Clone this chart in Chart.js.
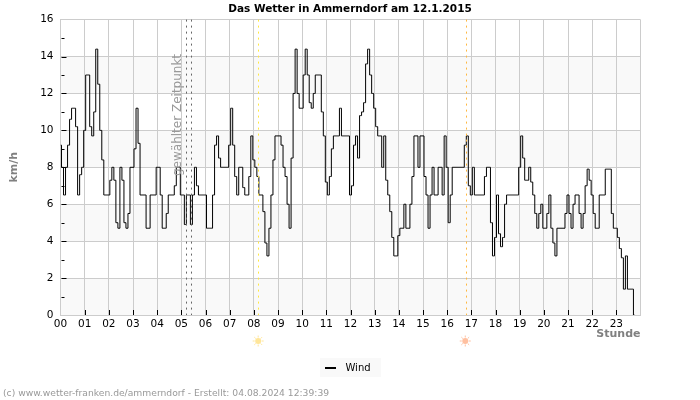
<!DOCTYPE html>
<html>
<head>
<meta charset="utf-8">
<title>Das Wetter in Ammerndorf</title>
<script src="https://cdn.jsdelivr.net/npm/chart.js@4"></script>
<style>
  html, body { margin: 0; padding: 0; background: #fff; }
  #box { position: absolute; left: 0; top: 0; width: 700px; height: 400px; }
</style>
</head>
<body>
<div id="box"><canvas id="wetter" width="700" height="400"></canvas></div>
<script>
const chartTitle = "Das Wetter in Ammerndorf am 12.1.2015";
const footerText = "(c) www.wetter-franken.de/ammerndorf - Erstellt: 04.08.2024 12:39:39";
const selectedLabel = "gewählter Zeitpunkt";
const seriesName = "Wind";
const hourLabels = ["00","01","02","03","04","05","06","07","08","09","10","11","12","13","14","15","16","17","18","19","20","21","22","23"];
const yTickLabels = [0, 2, 4, 6, 8, 10, 12, 14, 16];
const yBands = [[0, 2], [4, 6], [8, 10], [12, 14]];
const selectedHours = [5.18, 5.41];
const sunrise = 8.18;
const sunset = 16.79;

// one row per hour, 5 minute values in km/h
const windValues = [
  9.2, 8.0, 6.5, 8.0, 9.2, 10.6, 11.2, 11.2, 10.2, 6.5, 7.6, 8.0,
  10.0, 13.0, 13.0, 10.2, 9.7, 11.0, 14.4, 12.5, 10.0, 8.4, 6.5, 6.5,
  6.5, 7.3, 8.0, 7.3, 5.0, 4.7, 8.0, 7.3, 5.0, 4.7, 5.5, 8.0,
  8.0, 9.0, 11.2, 9.3, 6.5, 6.5, 6.5, 4.7, 4.7, 6.5, 6.5, 6.5,
  8.0, 8.0, 6.5, 4.7, 4.7, 5.5, 6.5, 6.5, 6.5, 7.0, 8.0, 8.0,
  6.5, 6.5, 4.9, 6.5, 6.5, 4.9, 6.5, 8.0, 7.0, 6.5, 6.5, 6.5,
  6.5, 4.7, 4.7, 4.7, 6.5, 9.2, 9.7, 8.5, 8.0, 8.0, 8.0, 8.0,
  9.2, 11.2, 9.2, 7.5, 6.5, 8.0, 8.0, 6.9, 6.5, 6.5, 7.5, 9.7,
  8.4, 8.0, 7.5, 6.5, 6.5, 5.6, 3.9, 3.2, 4.7, 6.5, 8.4, 9.7,
  9.7, 9.7, 9.2, 8.0, 7.5, 6.0, 4.7, 8.5, 12.0, 14.4, 12.0, 11.2,
  11.2, 13.0, 14.4, 13.0, 11.5, 11.2, 12.0, 13.0, 13.0, 13.0, 11.0, 9.7,
  7.2, 6.5, 7.5, 9.0, 9.7, 9.7, 9.7, 11.2, 9.7, 9.7, 9.7, 9.7,
  6.5, 7.0, 9.2, 9.7, 8.5, 10.8, 11.0, 11.5, 13.6, 14.4, 13.0, 12.0,
  11.2, 10.2, 9.7, 9.7, 8.0, 9.7, 7.3, 6.5, 5.6, 4.2, 3.2, 3.2,
  4.3, 4.7, 4.7, 6.0, 4.7, 4.7, 6.0, 7.5, 9.7, 9.7, 8.0, 9.7,
  9.7, 7.5, 6.5, 4.7, 6.5, 8.0, 6.5, 6.5, 8.0, 8.0, 6.5, 9.7,
  8.0, 5.0, 6.5, 8.0, 8.0, 8.0, 8.0, 8.0, 8.0, 9.2, 9.7, 7.0,
  6.5, 8.0, 6.5, 6.5, 6.5, 6.5, 6.5, 7.5, 8.0, 8.0, 5.0, 3.2,
  4.2, 6.5, 4.4, 3.7, 4.2, 6.0, 6.5, 6.5, 6.5, 6.5, 6.5, 6.5,
  8.0, 9.7, 8.5, 7.3, 7.3, 8.0, 7.2, 6.5, 5.5, 4.7, 5.5, 6.0,
  4.7, 4.7, 5.5, 6.5, 4.7, 3.9, 3.2, 4.7, 4.7, 4.7, 4.7, 5.5,
  6.5, 5.5, 4.7, 6.0, 6.5, 6.5, 5.5, 4.7, 5.5, 7.0, 7.9, 7.3,
  6.5, 5.5, 4.7, 4.7, 6.5, 6.5, 6.5, 7.9, 7.9, 7.9, 5.5, 4.7,
  4.7, 4.2, 3.6, 3.1, 1.4, 3.2, 1.4, 1.4, 1.4, 0
];

const fontName = "'DejaVu Sans', sans-serif";

function drawSun(ctx, x, y, color) {
  ctx.save();
  ctx.strokeStyle = color;
  ctx.fillStyle = color;
  ctx.lineWidth = 1;
  ctx.beginPath();
  ctx.arc(x, y, 3, 0, Math.PI * 2);
  ctx.fill();
  for (let i = 0; i < 8; i++) {
    const a = i * Math.PI / 4;
    ctx.beginPath();
    ctx.moveTo(x + Math.cos(a) * 3.5, y + Math.sin(a) * 3.5);
    ctx.lineTo(x + Math.cos(a) * 5.5, y + Math.sin(a) * 5.5);
    ctx.stroke();
  }
  ctx.restore();
}

function dottedLine(ctx, chart, hour, color) {
  const x = Math.round(chart.scales.x.getPixelForValue(hour)) + 0.5;
  ctx.save();
  ctx.strokeStyle = color;
  ctx.lineWidth = 1;
  ctx.setLineDash([2, 4]);
  ctx.beginPath();
  ctx.moveTo(x, chart.chartArea.top);
  ctx.lineTo(x, chart.chartArea.bottom);
  ctx.stroke();
  ctx.restore();
}

// bands behind the grid, legend background
const bandPlugin = {
  id: "bands",
  afterLayout(chart) {
    // right padding keeps the plot in place, title and legend stay centred on the page
    chart.titleBlock.right += 59.5;
    chart.legend.right += 55.5;
  },
  beforeDraw(chart) {
    const { ctx, chartArea, scales } = chart;
    ctx.save();
    ctx.fillStyle = "#f9f9f9";
    yBands.forEach(([from, to]) => {
      const top = scales.y.getPixelForValue(to);
      ctx.fillRect(chartArea.left, top, chartArea.width, scales.y.getPixelForValue(from) - top);
    });
    ctx.fillRect(320, chart.legend.top, 61, 19);
    ctx.restore();
  }
};

// inner tick marks, marker lines, rotated label, suns, footer
const extrasPlugin = {
  id: "extras",
  afterDraw(chart) {
    const { ctx, chartArea, scales } = chart;
    ctx.save();
    ctx.strokeStyle = "#000";
    ctx.lineWidth = 1;
    ctx.beginPath();
    for (let v = 1; v < 16; v++) {
      const y = Math.round(scales.y.getPixelForValue(v)) + 0.5;
      ctx.moveTo(chartArea.left + 1, y);
      ctx.lineTo(chartArea.left + (v % 2 ? 4 : 6), y);
    }
    hourLabels.forEach((h, i) => {
      if (i === 0) return;
      const x = Math.round(scales.x.getPixelForValue(i)) + 0.5;
      ctx.moveTo(x, chartArea.bottom - 5);
      ctx.lineTo(x, chartArea.bottom);
    });
    ctx.stroke();
    // legend line
    ctx.lineWidth = 2;
    ctx.beginPath();
    ctx.moveTo(325, chart.legend.top + 10);
    ctx.lineTo(336, chart.legend.top + 10);
    ctx.stroke();
    ctx.restore();

    selectedHours.forEach((h) => dottedLine(ctx, chart, h, "#666"));
    dottedLine(ctx, chart, sunrise, "#ffe840");
    dottedLine(ctx, chart, sunset, "#ffb840");

    ctx.save();
    ctx.translate(scales.x.getPixelForValue(selectedHours[0]) - 4.5, 176);
    ctx.rotate(-Math.PI / 2);
    ctx.fillStyle = "#999";
    ctx.font = "12px " + fontName;
    ctx.textAlign = "left";
    ctx.textBaseline = "alphabetic";
    ctx.fillText(selectedLabel, 0, 0);
    ctx.restore();

    drawSun(ctx, scales.x.getPixelForValue(sunrise), 341, "#ffe69a");
    drawSun(ctx, scales.x.getPixelForValue(sunset) - 1, 341, "#ffc0a0");

    ctx.save();
    ctx.fillStyle = "#999";
    ctx.font = "9.2px " + fontName;
    ctx.textBaseline = "middle";
    ctx.fillText(footerText, 3, 393.5);
    ctx.restore();
  }
};

new Chart(document.getElementById("wetter"), {
  type: "line",
  data: {
    datasets: [{
      label: seriesName,
      data: windValues.map((v, i) => ({ x: i / 12, y: v })),
      borderColor: "#000",
      borderWidth: 1,
      pointRadius: 0,
      stepped: "middle",
      fill: false
    }]
  },
  options: {
    responsive: false,
    animation: false,
    layout: { padding: { top: 0, right: 59.5, bottom: 17, left: 0 } },
    plugins: {
      title: {
        display: true,
        text: chartTitle,
        color: "#000",
        font: { family: fontName, size: 10.5, weight: "bold" },
        padding: { top: 3, bottom: 4 }
      },
      legend: {
        position: "bottom",
        labels: {
          color: "#000",
          font: { family: fontName, size: 10 },
          boxWidth: 15,
          boxHeight: 2,
          padding: 5,
          generateLabels: () => [{ text: seriesName, fillStyle: "rgba(0,0,0,0)", strokeStyle: "rgba(0,0,0,0)", lineWidth: 0 }]
        },
        onClick: null
      },
      tooltip: { enabled: false }
    },
    scales: {
      x: {
        type: "linear",
        min: 0,
        max: 24,
        afterFit: (axis) => { axis.height = 43; },
        afterBuildTicks: (axis) => { axis.ticks = hourLabels.map((h, i) => ({ value: i })).concat({ value: 24 }); },
        grid: { color: "#ccc", drawTicks: false },
        border: { color: "#ccc" },
        ticks: {
          autoSkip: false,
          maxRotation: 0,
          padding: 3,
          color: "#000",
          font: { family: fontName, size: 10.5 },
          callback: (v) => hourLabels[v] || ""
        },
        title: {
          display: true,
          text: "Stunde",
          align: "end",
          color: "#808080",
          font: { family: fontName, size: 11, weight: "bold" },
          padding: { top: 0, bottom: 17 }
        }
      },
      y: {
        min: 0,
        max: 16,
        afterFit: (axis) => { axis.width = 60.5; },
        afterBuildTicks: (axis) => { axis.ticks = yTickLabels.map((v) => ({ value: v })); },
        grid: { color: "#ccc", drawTicks: false },
        border: { color: "#ccc" },
        ticks: {
          padding: 7,
          color: "#000",
          font: { family: fontName, size: 10.5 }
        },
        title: {
          display: true,
          text: "km/h",
          color: "#808080",
          font: { family: fontName, size: 11, weight: "bold" },
          padding: { top: 8, bottom: 0 }
        }
      }
    }
  },
  plugins: [bandPlugin, extrasPlugin]
});
</script>
</body>
</html>
